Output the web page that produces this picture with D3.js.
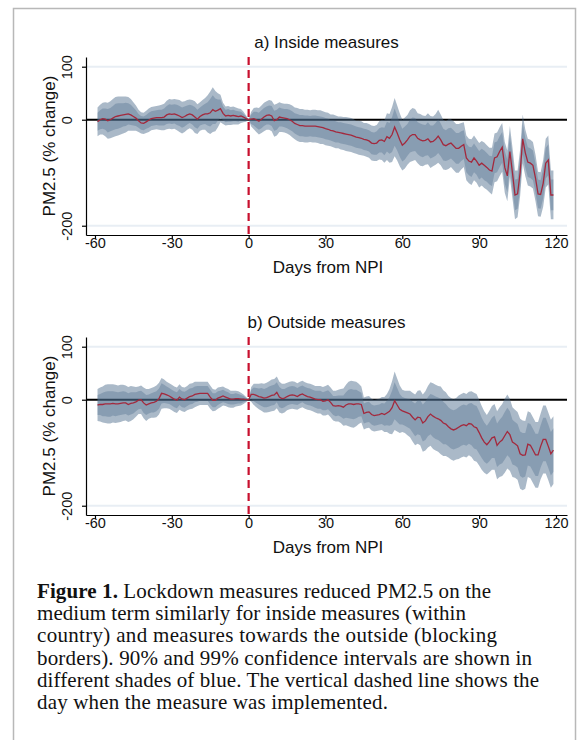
<!DOCTYPE html>
<html>
<head>
<meta charset="utf-8">
<script src="https://cdn.jsdelivr.net/npm/d3@7"></script>
<style>
  body { margin: 0; background: #fff; }
  svg { display: block; }
</style>
</head>
<body>
<div id="chart"></div>
<script>
// Event study: PM2.5 change around the NPI day (days -59 .. 119)
const FIRST_DAY = -59;
const X_TICKS = [-60, -30, 0, 30, 60, 90, 120];
const Y_TICKS = [-200, 0, 100];
const GRID_VALUES = [-200, 100];
const PANEL_TITLES = ["a) Inside measures", "b) Outside measures"];
const X_LABEL = "Days from NPI";
const Y_LABEL = "PM2.5 (% change)";

// a) inside measures: point estimate, 90% and 99% CI half-widths
const INSIDE_EST = [
  -4, 0, 2, 1, -2, 0, 3, 6, 7, 8,
  9, 10, 11, 9, 6, 3, -2, -6, -7, -4,
  -1, 2, 3, 4, 4, 4, 5, 9, 11, 10,
  11, 9, 7, 4, 6, 9, 11, 9, 5, 1,
  6, 9, 11, 11, 13, 19, 16, 18, 21, 12,
  7, 8, 7, 8, 7, 6, 7, 5, 2,
  0,
  1, 2, 0, -3, 1, 5, 8, 9, 7, -2,
  0, 5, 4, 3, 2, 0, -3, -7, -9, -11,
  -11, -12, -12, -12, -12, -12, -13, -14, -15, -17,
  -18, -20, -21, -23, -24, -25, -26, -27, -28, -29,
  -31, -33, -34, -35, -37, -38, -40, -44, -45, -44,
  -39, -38, -41, -32, -35, -28, -14, -25, -38, -48,
  -44, -38, -31, -28, -28, -35, -38, -40, -39, -36,
  -42, -41, -37, -31, -38, -47, -49, -46, -44, -49,
  -54, -54, -50, -47, -72, -78, -80, -72, -78, -86,
  -82, -86, -90, -95, -97, -72, -70, -60, -52, -90,
  -106, -60, -100, -142, -140, -100, -36, -62, -80, -82,
  -86, -110, -140, -141, -120, -82, -76, -142, -142
];
const INSIDE_HW90 = [
  17, 18, 19, 20, 22, 22, 23, 24, 24, 23,
  22, 22, 20, 19, 17, 15, 13, 13, 13, 13,
  14, 14, 14, 14, 15, 15, 16, 17, 18, 18,
  18, 19, 19, 19, 19, 18, 17, 18, 19, 18,
  17, 18, 19, 22, 26, 27, 24, 20, 17, 13,
  12, 12, 11, 11, 10, 10, 8, 6, 4,
  0,
  9, 13, 15, 16, 17, 17, 17, 18, 19, 19,
  19, 18, 17, 17, 18, 19, 19, 19, 20, 20,
  20, 20, 20, 19, 20, 20, 20, 20, 20, 20,
  20, 19, 20, 20, 19, 20, 20, 20, 20, 20,
  20, 20, 20, 20, 20, 20, 20, 21, 21, 22,
  23, 24, 26, 28, 29, 33, 35, 33, 32, 31,
  31, 30, 31, 32, 31, 30, 31, 31, 29, 31,
  31, 30, 31, 32, 31, 30, 29, 30, 29, 29,
  29, 29, 28, 27, 27, 27, 28, 27, 26, 27,
  27, 28, 27, 27, 28, 29, 29, 29, 29, 31,
  31, 31, 31, 29, 28, 28, 29, 28, 28, 28,
  28, 28, 27, 27, 28, 29, 29, 29, 29
];
const INSIDE_HW99 = [
  27, 28, 30, 32, 34, 35, 36, 37, 37, 36,
  35, 34, 32, 30, 27, 24, 21, 20, 20, 21,
  22, 22, 22, 22, 23, 24, 25, 27, 28, 28,
  28, 29, 30, 30, 29, 28, 27, 28, 30, 28,
  27, 28, 30, 35, 40, 42, 38, 32, 26, 20,
  18, 18, 17, 17, 16, 15, 13, 10, 6,
  0,
  14, 20, 23, 25, 26, 27, 27, 28, 29, 30,
  30, 28, 27, 27, 28, 29, 30, 30, 31, 31,
  31, 31, 31, 30, 31, 31, 31, 32, 31, 31,
  31, 30, 31, 31, 30, 31, 31, 32, 32, 32,
  32, 31, 32, 32, 31, 32, 32, 33, 33, 34,
  36, 38, 40, 44, 46, 52, 55, 52, 50, 48,
  48, 47, 49, 50, 48, 47, 49, 48, 46, 48,
  49, 47, 48, 50, 48, 47, 46, 47, 45, 46,
  46, 46, 44, 42, 42, 42, 43, 42, 41, 42,
  42, 43, 42, 42, 44, 46, 46, 46, 46, 48,
  48, 48, 48, 46, 44, 44, 46, 44, 44, 44,
  44, 44, 42, 42, 44, 46, 46, 46, 46
];

// b) outside measures
const OUTSIDE_EST = [
  -10, -9, -9, -8, -8, -8, -7, -8, -8, -7,
  -6, -6, -9, -7, -6, -4, -1, 0, -6, -10,
  -8, -6, -5, -3, 2, 12, 11, 9, 7, 4,
  1, -1, 5, 1, 0, 3, 6, 7, 10, 11,
  12, 12, 12, 12, 5, -1, -1, 3, 5, 7,
  5, 3, 1, 1, 2, 2, 1, 1, 0,
  0,
  10, 10, 8, 6, 5, 3, 4, 6, 8, 9,
  14, 5, 2, 3, 6, 8, 9, 8, 6, 9,
  11, 8, 6, 5, 3, 1, 0, 0, -3, -2,
  0, -5, -11, -12, -11, -12, -14, -10, -8, -8,
  -9, -8, -8, -9, -26, -24, -23, -28, -30, -29,
  -28, -26, -28, -25, -22, -15, -2, -10, -18, -21,
  -23, -25, -27, -33, -38, -33, -34, -44, -40, -32,
  -27, -31, -34, -36, -39, -44, -46, -51, -55, -57,
  -55, -52, -49, -47, -49, -45, -46, -51, -53, -62,
  -72, -80, -85, -79, -72, -70, -86, -80, -76, -68,
  -60, -66, -80, -83, -87, -102, -105, -104, -84, -86,
  -95, -104, -104, -88, -75, -75, -88, -102, -95
];
const OUTSIDE_HW90 = [
  19, 20, 22, 23, 24, 24, 23, 23, 22, 22,
  22, 21, 21, 21, 20, 18, 17, 17, 19, 19,
  18, 18, 19, 19, 19, 19, 17, 16, 15, 15,
  15, 15, 15, 15, 15, 15, 15, 15, 15, 15,
  14, 14, 14, 14, 14, 13, 13, 13, 12, 12,
  11, 11, 10, 10, 10, 9, 8, 6, 3,
  0,
  9, 13, 14, 15, 17, 17, 18, 19, 19, 19,
  19, 19, 18, 17, 17, 17, 17, 17, 16, 16,
  16, 16, 16, 16, 16, 16, 17, 17, 17, 18,
  18, 18, 18, 19, 19, 20, 22, 24, 27, 28,
  28, 27, 24, 22, 19, 19, 19, 19, 19, 19,
  19, 20, 21, 23, 27, 32, 35, 32, 29, 26,
  26, 27, 28, 29, 31, 32, 33, 35, 36, 37,
  38, 40, 40, 40, 41, 40, 38, 37, 37, 37,
  37, 38, 38, 38, 38, 38, 40, 41, 41, 40,
  38, 37, 36, 37, 38, 40, 41, 42, 44, 45,
  45, 44, 42, 41, 41, 42, 42, 41, 40, 40,
  40, 40, 40, 40, 41, 41, 41, 41, 41
];
const OUTSIDE_HW99 = [
  30, 32, 34, 36, 37, 37, 36, 36, 35, 35,
  34, 33, 33, 33, 31, 28, 26, 27, 29, 30,
  28, 28, 29, 30, 30, 29, 27, 25, 24, 24,
  24, 24, 24, 23, 23, 23, 24, 24, 24, 23,
  22, 22, 22, 22, 22, 21, 20, 20, 19, 18,
  17, 17, 16, 16, 15, 14, 12, 9, 5,
  0,
  14, 20, 22, 24, 26, 27, 28, 29, 30, 30,
  30, 29, 28, 27, 26, 26, 26, 26, 25, 25,
  25, 25, 25, 25, 25, 25, 26, 26, 27, 28,
  28, 28, 28, 29, 30, 32, 35, 38, 42, 44,
  44, 42, 38, 34, 30, 30, 30, 30, 30, 30,
  30, 31, 33, 36, 42, 50, 55, 50, 45, 40,
  40, 42, 44, 46, 48, 50, 52, 54, 56, 58,
  60, 62, 62, 62, 64, 62, 60, 58, 58, 58,
  58, 60, 60, 60, 60, 60, 62, 64, 64, 62,
  60, 58, 56, 58, 60, 62, 64, 66, 68, 70,
  70, 68, 66, 64, 64, 66, 66, 64, 62, 62,
  62, 62, 62, 62, 64, 64, 64, 64, 64
];

const CAPTION_BOLD = "Figure 1.";
const CAPTION_LINES = [
  " Lockdown measures reduced PM2.5 on the",
  "medium term similarly for inside measures (within",
  "country) and measures towards the outside (blocking",
  "borders). 90% and 99% confidence intervals are shown in",
  "different shades of blue. The vertical dashed line shows the",
  "day when the measure was implemented."
];

// ---------- layout ----------
const W = 581, H = 740;
const plot = { left: 86, right: 567, top: 57, bottom: 235 };
const PANEL_SHIFT = 280;
const SANS = "'Liberation Sans', Arial, Helvetica, sans-serif";
const SERIF = "'Liberation Serif', 'Times New Roman', serif";
const captionLayout = { x: 37, y: 598, step: 22.2, ends: [491, 466, 497, 532, 539, 388] };

const svg = d3.select("#chart").append("svg")
  .attr("width", W)
  .attr("height", H);

// card border
svg.append("rect")
  .attr("x", 13.5).attr("y", 8.5)
  .attr("width", 562).attr("height", 780)
  .attr("fill", "none")
  .attr("stroke", "#b8b8b8")
  .attr("stroke-width", 1.5);

const x = d3.scaleLinear()
  .domain([-63.5, 124.3])
  .range([plot.left, plot.right]);

function drawPanel(shift, title, est, hw90, hw99) {
  const y = d3.scaleLinear()
    .domain([-217.5, 118.3])
    .range([plot.bottom + shift, plot.top + shift]);

  const rows = est.map((v, i) => ({
    day: FIRST_DAY + i, v, h90: hw90[i], h99: hw99[i]
  }));

  const g = svg.append("g");

  // light gridlines
  g.selectAll(null)
    .data(GRID_VALUES)
    .join("line")
    .attr("x1", plot.left).attr("x2", plot.right)
    .attr("y1", d => y(d)).attr("y2", d => y(d))
    .attr("stroke", "#e8eef4")
    .attr("stroke-width", 2);

  // zero reference line
  g.append("line")
    .attr("x1", plot.left).attr("x2", plot.right)
    .attr("y1", y(0)).attr("y2", y(0))
    .attr("stroke", "#000")
    .attr("stroke-width", 2);

  // confidence bands (99% then 90%)
  const band = k => d3.area()
    .x(d => x(d.day))
    .y0(d => y(d.v - d[k]))
    .y1(d => y(d.v + d[k]));

  g.append("path")
    .datum(rows)
    .attr("d", band("h99"))
    .attr("fill", "#4a6a8a")
    .attr("fill-opacity", 0.47);

  g.append("path")
    .datum(rows)
    .attr("d", band("h90"))
    .attr("fill", "#4a6a8a")
    .attr("fill-opacity", 0.35);

  // point estimate
  g.append("path")
    .datum(rows)
    .attr("d", d3.line().x(d => x(d.day)).y(d => y(d.v)))
    .attr("fill", "none")
    .attr("stroke", "#a3293d")
    .attr("stroke-width", 1.3);

  // day of the measure
  g.append("line")
    .attr("x1", x(0)).attr("x2", x(0))
    .attr("y1", plot.top + shift).attr("y2", plot.bottom + shift)
    .attr("stroke", "#c8102e")
    .attr("stroke-width", 2.2)
    .attr("stroke-dasharray", "8,5");

  // x axis (plain hyphen minus like the original)
  const xAxis = g.append("g")
    .attr("transform", `translate(0,${plot.bottom + shift})`)
    .call(d3.axisBottom(x).tickValues(X_TICKS).tickFormat(d => String(d))
      .tickSize(4).tickSizeOuter(0));
  xAxis.selectAll("text")
    .attr("y", 13).attr("dy", 0)
    .attr("font-size", 14.5)
    .attr("font-family", SANS)
    .attr("fill", "#111");

  // y axis
  const yAxis = g.append("g")
    .attr("transform", `translate(${plot.left},0)`)
    .call(d3.axisLeft(y).tickValues(Y_TICKS).tickFormat(d => String(d))
      .tickSize(4).tickSizeOuter(0));
  yAxis.selectAll("text")
    .attr("x", 0).attr("dy", 0)
    .attr("transform", "translate(-14,0) rotate(-90)")
    .attr("text-anchor", "middle")
    .attr("font-size", 14.5)
    .attr("font-family", SANS)
    .attr("fill", "#111");

  g.selectAll(".domain, .tick line")
    .attr("stroke", "#000")
    .attr("stroke-width", 1.2);

  // labels
  g.append("text")
    .attr("x", 326.5).attr("y", 48 + shift)
    .attr("text-anchor", "middle")
    .attr("font-family", SANS)
    .attr("font-size", 17)
    .attr("fill", "#111")
    .text(title);

  g.append("text")
    .attr("x", 328).attr("y", 273 + shift)
    .attr("text-anchor", "middle")
    .attr("font-family", SANS)
    .attr("font-size", 17)
    .attr("fill", "#111")
    .text(X_LABEL);

  g.append("text")
    .attr("transform", `translate(55,${146 + shift}) rotate(-90)`)
    .attr("text-anchor", "middle")
    .attr("font-family", SANS)
    .attr("font-size", 17)
    .attr("fill", "#111")
    .text(Y_LABEL);
}

drawPanel(0, PANEL_TITLES[0], INSIDE_EST, INSIDE_HW90, INSIDE_HW99);
drawPanel(PANEL_SHIFT, PANEL_TITLES[1], OUTSIDE_EST, OUTSIDE_HW90, OUTSIDE_HW99);

// ---------- caption ----------
const cap = svg.append("g")
  .attr("font-family", SERIF)
  .attr("font-size", 21)
  .attr("fill", "#111");

CAPTION_LINES.forEach((line, i) => {
  const t = cap.append("text")
    .attr("x", captionLayout.x)
    .attr("y", captionLayout.y + i * captionLayout.step)
    .attr("textLength", captionLayout.ends[i] - captionLayout.x)
    .attr("lengthAdjust", "spacing");
  if (i === 0) {
    t.append("tspan").attr("font-weight", "bold").text(CAPTION_BOLD);
  }
  t.append("tspan").text(line);
});
</script>
</body>
</html>
